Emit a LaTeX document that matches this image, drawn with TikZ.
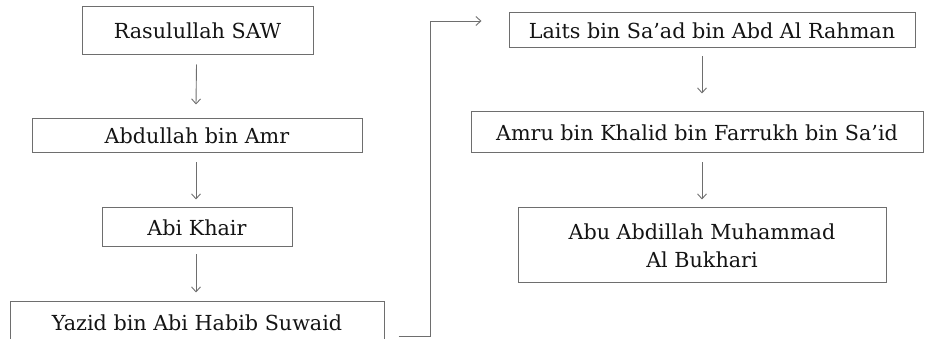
\documentclass[tikz,border=0pt]{standalone}
\usepackage{fontspec}
\setmainfont{DejaVu Serif}
\usetikzlibrary{arrows.meta,calc}
\definecolor{linegray}{RGB}{110,110,110}
\definecolor{txt}{RGB}{20,20,20}
\begin{document}
\begin{tikzpicture}[x=1pt,y=-1pt,
  box/.style={draw=linegray,line width=1pt,inner sep=0pt,text=txt,
    font=\fontsize{20.7}{28}\selectfont,align=center},
  arr/.style={draw=linegray,line width=0.9pt,-{Straight Barb[length=5pt,width=9pt]}}]
\useasboundingbox (0,0) rectangle (930,339);
\clip (0,0) rectangle (930,339);
\node[box,minimum width=231pt,minimum height=48pt] (r) at (197.5,31) {Rasulullah SAW};
\node[box,minimum width=330pt,minimum height=34pt] (a) at (197,136) {Abdullah bin Amr};
\node[box,minimum width=190pt,minimum height=39pt] (k) at (197,227.5) {Abi Khair};
\node[box,minimum width=374pt,minimum height=41pt] (y) at (197,322.5) {Yazid bin Abi Habib Suwaid};
\node[box,minimum width=406pt,minimum height=35pt] (l) at (712,30.5) {Laits bin Sa’ad bin Abd Al Rahman};
\node[box,minimum width=452pt,minimum height=41pt] (m) at (697,132.5) {Amru bin Khalid bin Farrukh bin Sa’id};
\node[box,minimum width=368pt,minimum height=75pt] (b) at (702,245.5) {Abu Abdillah Muhammad\\ Al Bukhari};
\draw[arr] ($(r.south)+(-1,9)$) -- ($(a.north)+(-1,-14)$);
\draw[arr] ($(a.south)+(-1,9)$) -- ($(k.north)+(-1,-8)$);
\draw[arr] ($(k.south)+(-1,7)$) -- ($(y.north)+(-1,-9)$);
\draw[arr] ($(b.north |- l.south)+(0,8)$) -- ($(b.north |- m.north)+(0,-18)$);
\draw[arr] ($(b.north |- m.south)+(0,9)$) -- ($(b.north)+(0,-8)$);
\coordinate (ys) at ($(y.east)+(14,13.5)$);
\coordinate (bend) at (430,336);
\coordinate (le) at ($(l.west)+(-27,-9.5)$);
\draw[arr] (ys) -- (bend) |- (le);
\end{tikzpicture}
\end{document}
